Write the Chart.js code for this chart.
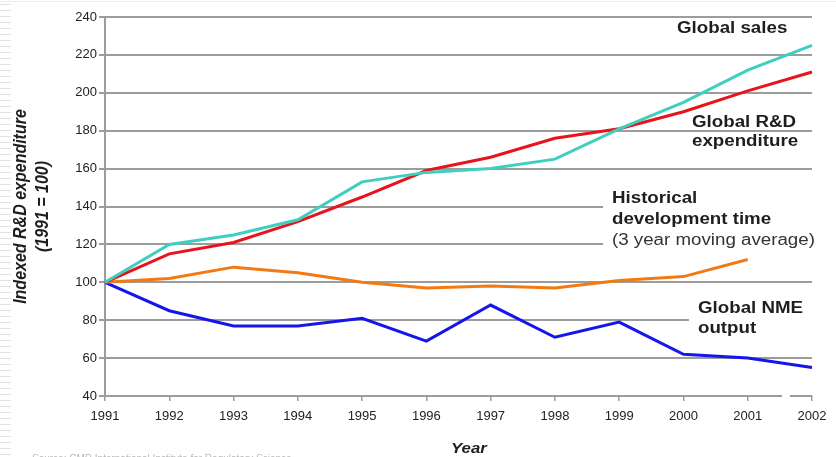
<!DOCTYPE html>
<html>
<head>
<meta charset="utf-8">
<script src="https://cdn.jsdelivr.net/npm/chart.js@4/dist/chart.umd.min.js"></script>
<style>
  html, body { margin: 0; padding: 0; background: #ffffff; }
  #wrap { width: 836px; height: 457px; position: relative; }
</style>
</head>
<body>
<div id="wrap"><canvas id="chart" width="836" height="457"></canvas></div>
<script>
// Years on the x axis
const years = ['1991','1992','1993','1994','1995','1996','1997','1998','1999','2000','2001','2002'];

// Indexed series (1991 = 100)
const globalSales = [100, 120, 125, 133, 153, 158, 160, 165, 181, 195, 212, 225];
const globalRD = [100, 115, 121, 132, 145, 159, 166, 176, 181, 190, 201, 211];
const devTime = [100, 102, 108, 105, 100, 97, 98, 97, 101, 103, 112, null];
const nmeOutput = [100, 85, 77, 77, 81, 69, 88, 71, 79, 62, 60, 55];

// Y-axis tick range
const yMin = 40, yMax = 240, yStep = 20;

const FONT = '"Liberation Sans", Arial, Helvetica, sans-serif';
const GRID = '#9c9c9c';

// Text drawn with a slight horizontal stretch, as in the slide deck styling
function wideText(ctx, text, x, y, font, color, sx) {
  ctx.save();
  ctx.font = font;
  ctx.fillStyle = color;
  ctx.textBaseline = 'alphabetic';
  ctx.textAlign = 'left';
  ctx.translate(x, y);
  ctx.scale(sx, 1);
  ctx.fillText(text, 0, 0);
  ctx.restore();
}

// White panels behind series captions (they hide the grid lines there)
const captionPanels = {
  id: 'captionPanels',
  beforeDatasetsDraw(chart) {
    const ctx = chart.ctx;
    ctx.save();
    ctx.fillStyle = '#ffffff';
    ctx.fillRect(603, 186, 233, 66);
    ctx.fillRect(689, 296, 147, 48);
    ctx.restore();
  }
};

// Series captions, axis titles, source note and slide edge decoration
const annotations = {
  id: 'annotations',
  afterDraw(chart) {
    const ctx = chart.ctx;
    const area = chart.chartArea;
    const bold = 'bold 16px ' + FONT;
    const reg = '16px ' + FONT;
    const dark = '#1e1e1e';
    const sx = 1.17;

    wideText(ctx, 'Global sales', 677, 33, bold, dark, sx);
    wideText(ctx, 'Global R&D', 692, 127, bold, dark, sx);
    wideText(ctx, 'expenditure', 692, 146, bold, dark, sx);
    wideText(ctx, 'Historical', 612, 203, bold, dark, sx);
    wideText(ctx, 'development time', 612, 224, bold, dark, sx);
    wideText(ctx, '(3 year moving average)', 612, 245, reg, '#333333', sx);
    wideText(ctx, 'Global NME', 698, 313, bold, dark, sx);
    wideText(ctx, 'output', 698, 333, bold, dark, sx);

    // Y axis title (two lines, rotated)
    ctx.save();
    ctx.font = 'italic bold 16px ' + FONT;
    ctx.fillStyle = dark;
    ctx.textAlign = 'center';
    ctx.textBaseline = 'middle';
    const cy = (area.top + area.bottom) / 2;
    ctx.translate(21, cy);
    ctx.rotate(-Math.PI / 2);
    ctx.scale(1, 1.1);
    ctx.fillText('Indexed R&D expenditure', 0, 0);
    ctx.fillText('(1991 = 100)', 0, 20);
    ctx.restore();

    // X axis title
    wideText(ctx, 'Year', 451, 453, 'italic bold 15px ' + FONT, dark, 1.12);

    // Source note at the foot of the slide
    ctx.save();
    ctx.font = '10px ' + FONT;
    ctx.fillStyle = '#b8b8b8';
    ctx.textBaseline = 'top';
    ctx.fillText('Source: CMR International Institute for Regulatory Science', 32, 454);
    ctx.restore();

    // Break in the x axis line near the end
    ctx.save();
    ctx.fillStyle = '#ffffff';
    ctx.fillRect(782, area.bottom - 2, 8, 4);
    ctx.restore();

    // Slide edge stripes
    ctx.save();
    ctx.strokeStyle = '#e2e2e2';
    ctx.lineWidth = 1;
    for (let y = 4; y < 457; y += 6) {
      ctx.beginPath();
      ctx.moveTo(0, y + 0.5);
      ctx.lineTo(11, y + 0.5);
      ctx.stroke();
    }
    ctx.strokeStyle = '#eeeeee';
    ctx.beginPath();
    ctx.moveTo(0, 1.5);
    ctx.lineTo(836, 1.5);
    ctx.stroke();
    ctx.restore();
  }
};

const lineStyle = (color) => ({
  borderColor: color,
  backgroundColor: color,
  borderWidth: 3,
  pointRadius: 0,
  pointHoverRadius: 0,
  tension: 0,
  fill: false,
  spanGaps: false
});

new Chart(document.getElementById('chart'), {
  type: 'line',
  data: {
    labels: years,
    datasets: [
      Object.assign({ label: 'Global sales', data: globalSales }, lineStyle('#3fcfbf')),
      Object.assign({ label: 'Global R&D expenditure', data: globalRD }, lineStyle('#e8141c')),
      Object.assign({ label: 'Historical development time (3 year moving average)', data: devTime }, lineStyle('#f27a14')),
      Object.assign({ label: 'Global NME output', data: nmeOutput }, lineStyle('#1616ec'))
    ]
  },
  options: {
    responsive: false,
    animation: false,
    devicePixelRatio: 1,
    layout: { padding: { left: 0, right: 24, top: 17, bottom: 0 } },
    plugins: {
      legend: { display: false },
      tooltip: { enabled: false },
      title: { display: false }
    },
    scales: {
      x: {
        type: 'category',
        offset: false,
        grid: {
          drawOnChartArea: false,
          drawTicks: true,
          tickLength: 5,
          color: GRID,
          lineWidth: 1.5
        },
        border: { display: true, color: GRID, width: 2 },
        ticks: {
          color: '#222222',
          font: { family: FONT, size: 13 },
          padding: 8,
          maxRotation: 0,
          autoSkip: false
        },
        afterFit(scale) { scale.height = 61; }
      },
      y: {
        min: yMin,
        max: yMax,
        grid: {
          color: GRID,
          lineWidth: 2,
          drawTicks: true,
          tickLength: 6
        },
        border: { display: true, color: GRID, width: 2 },
        ticks: {
          stepSize: yStep,
          color: '#222222',
          font: { family: FONT, size: 13 },
          padding: 2
        },
        afterFit(scale) { scale.width = 105; }
      }
    }
  },
  plugins: [captionPanels, annotations]
});
</script>
</body>
</html>
